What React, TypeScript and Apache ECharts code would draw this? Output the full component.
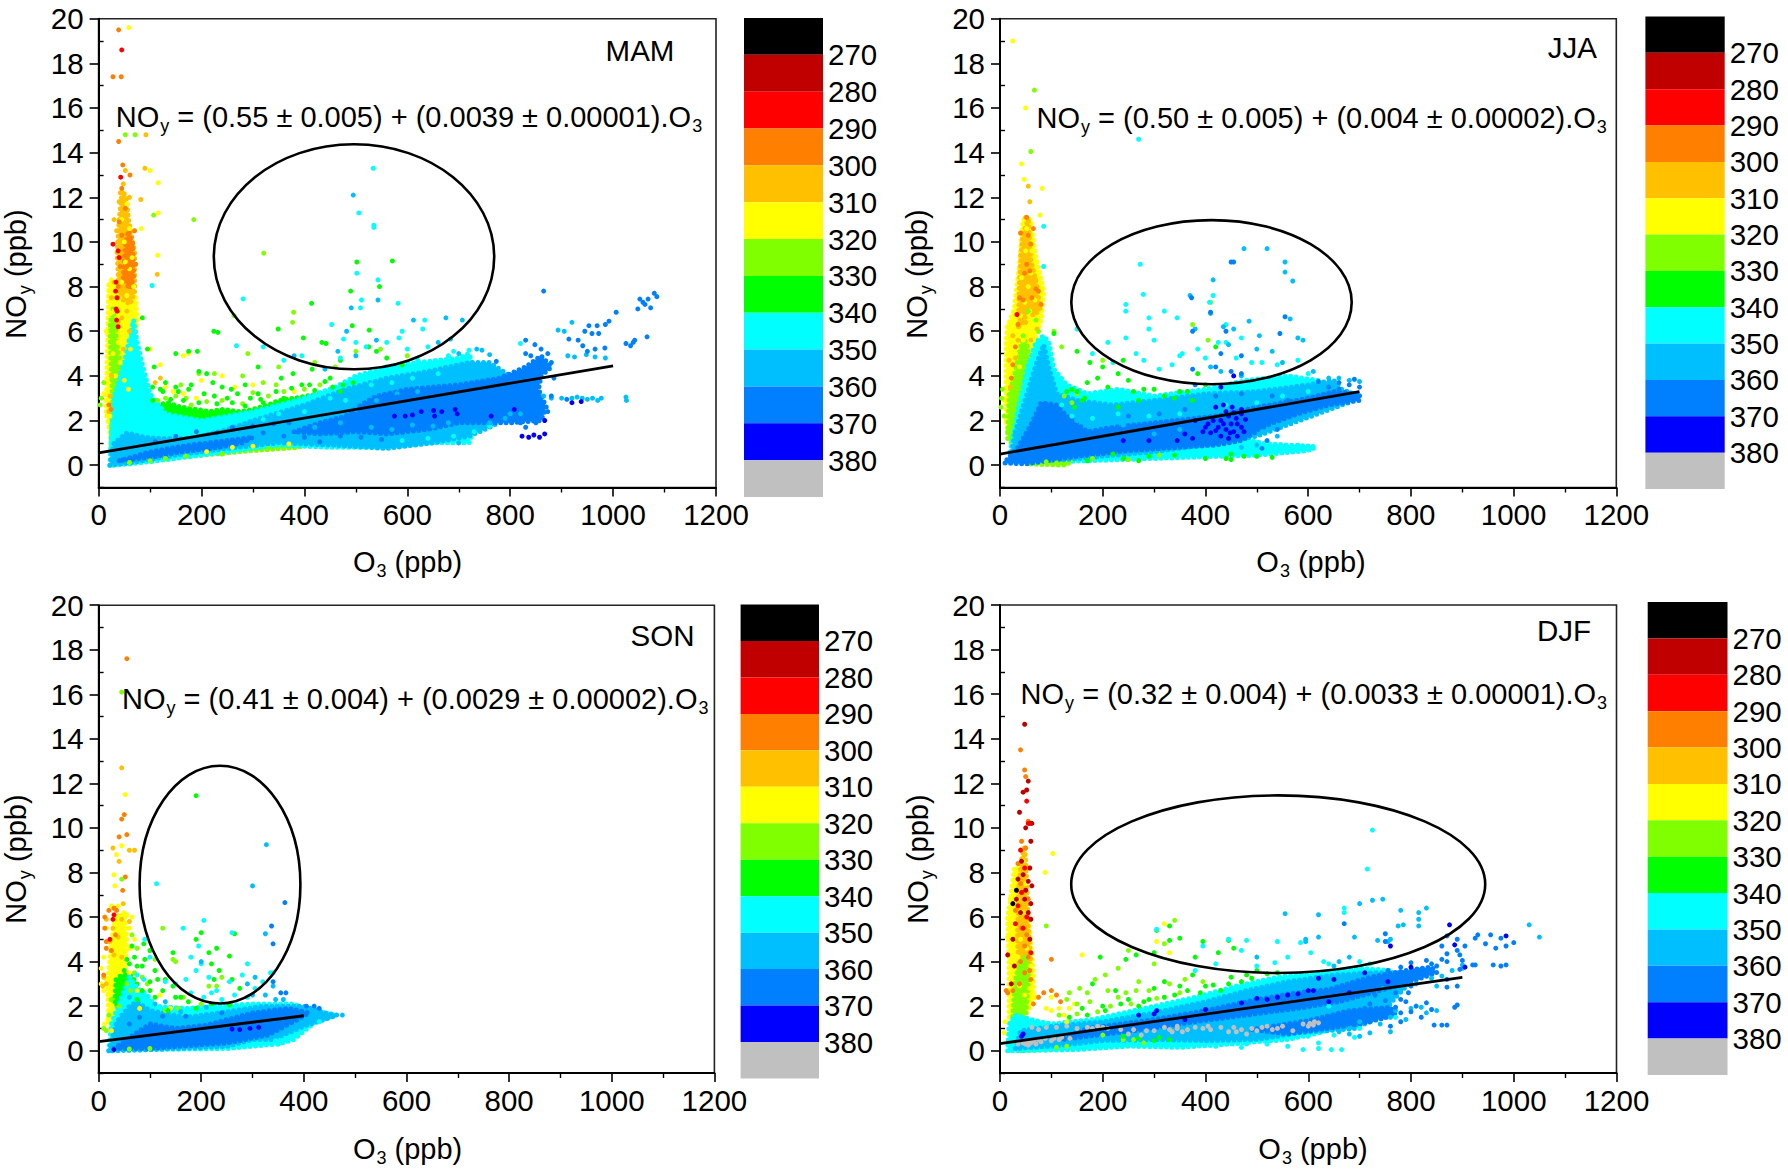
import React, { useEffect, useRef } from "react";
import * as echarts from "echarts";

const xTicks = [0, 200, 400, 600, 800, 1000, 1200];
const yLabelTicks = [0, 2, 4, 6, 8, 10, 12, 14, 16, 18, 20];
const yMinorTicks = [-1, 1, 3, 5, 7, 9, 11, 13, 15, 17, 19];
const bandStarts = [260, 270, 280, 290, 300, 310, 320, 330, 340, 350, 360, 370, 380];
const bandLabels = [270, 280, 290, 300, 310, 320, 330, 340, 350, 360, 370, 380];
const bandColors = ["#000000", "#C00000", "#FF0000", "#FF8000", "#FFC000", "#FFFF00", "#80FF00", "#00FF00", "#00FFFF", "#00BFFF", "#0080FF", "#0000FF", "#C0C0C0"];

const black = "#000000", dred = "#C00000", red = "#FF0000", orange = "#FF8000", amber = "#FFC000", yellow = "#FFFF00", lime = "#80FF00", green = "#00FF00", cyan = "#00FFFF", sky = "#00BFFF", azure = "#0080FF", blue = "#0000FF", gray = "#C0C0C0";

// ---------- MAM
const mamFitLine = [[0, 0.55], [1000, 4.45]];
const mamYellowCloud = [15,2.4, 18,6, 20,8.2, 35,8, 45,9, 60,8.5, 72,7.5, 75,6.5, 65,5, 60,3, 40,1, 28,.5, 22,1.5];
const mamLimeCloud = [24,.6, 27,3, 22,6.2, 28,7, 33,6, 38,5, 50,4, 50,3.2, 40,1.5, 30,.6];
const mamAmberCloud = [40,7.8, 36,9.5, 40,11, 46,12.3, 54,12, 58,11, 70,9.5, 70,7.8, 62,7.2, 48,7.4];
const mamOrangeCloud = [48,8.4, 52,9.8, 58,10.5, 66,10, 68,8.4, 60,7.9];
const mamGreenCloud = [115,2.7, 135,2.8, 160,2.6, 190,2.5, 215,2.4, 240,2.5, 275,2.4, 300,2.5, 330,2.7, 350,2.9, 380,3, 405,3.1, 430,3.2, 420,2.8, 350,2.35, 260,2.15, 200,1.95, 140,2.1, 120,2.3];
const mamLowEdge = [30,0, 100,.25, 200,.45, 300,.65, 390,.8, 400,.95, 300,.85, 200,.65, 100,.45, 40,.15];
const mamCyanCloud = [22,0, 25,1.5, 30,3, 52,4.8, 68,6.5, 75,5.5, 85,4.5, 100,3.2, 130,2.3, 200,2, 300,2.4, 400,3, 460,3.5, 500,4, 560,4.4, 620,4.6, 700,4.8, 720,5, 740,3.5, 730,1.6, 720,1, 650,1, 560,.8, 450,.8, 350,.9, 250,.6, 150,.3, 60,.05];
const mamSkyCloud = [22,0, 30,1, 55,1.45, 90,1.25, 120,1.2, 180,1.2, 250,1.6, 300,2, 400,2.7, 480,3.4, 560,3.9, 640,4.2, 720,4.6, 760,4.6, 800,4, 790,2.6, 770,1.8, 720,1.3, 650,1, 560,.75, 450,.9, 350,1, 250,.75, 150,.45, 60,.1];
const mamAzureLow = [40,.2, 100,.6, 160,.85, 230,1.05, 300,1.25, 280,1, 220,.75, 160,.6, 100,.35];
const mamAzureMain = [380,1.5, 430,1.9, 480,2.2, 510,2.7, 540,3.1, 600,3.4, 700,3.6, 780,3.9, 830,4.4, 860,4.9, 880,4.4, 860,4, 855,3.4, 870,2.6, 860,2, 800,1.9, 700,1.9, 640,1.6, 560,1.4, 500,1.5, 430,1.4];
const mamYellowDots = [59,19.6, 100,13.2, 116,12.65, 116,11.3, 115,9.4, 83,10.6, 25,8.3, 15,6, 18,3.7, 10,3.2, 14,2.9, 22,2.2, 100,5.2, 120,4.5, 165,4.9, 175,5, 240,4, 200,3.8, 130,3.5, 145,3.3, 165,3.2, 190,3, 265,3.5, 300,3.6, 380,3.3, 210,.6, 260,.8, 300,.85, 370,.95, 45,8.2, 52,9.1, 60,8.8, 40,7.5, 62,7.1, 68,8, 30,6.9, 48,6.2, 38,5.5, 55,5.8, 62,5.2, 42,4.6, 50,3.8, 58,3.4, 33,4, 28,5, 24,6.8, 35,8.2, 55,7.6, 70,7.2, 50,10, 60,10.6, 45,11, 55,11.7, 65,9.3];
const mamAmberDots = [92,14.8, 90,13.3, 114,8.55, 82,11.9, 52,13.2, 60,12, 30,11, 40,11.8, 35,10.5, 50,11.2, 48,12.6, 42,12.2, 20,2.4, 120,3.9, 110,3.7, 30,8.2, 25,7.5, 45,6.6, 55,6.9, 38,6.4, 48,5.2, 25,4, 22,3.1, 60,6, 35,7.5];
const mamOrangeDots = [39,19.5, 28,17.4, 44,17.4, 39,14.5, 47,13.45, 61,13, 45,12.4, 52,11.5, 40,10.9, 45,10.3, 65,9.8, 60,9, 50,8.6, 65,8.2, 55,8.9, 42,8.9, 38,8, 72,9, 70,10.5, 20,2.7, 24,2.5];
const mamRedDots = [45,18.6, 43,12.9, 28,9.9, 38,9.6, 40,9.3, 34,8.2, 36,7.5, 34,7, 35,6.5, 38,6.2, 33,7.8, 36,6.9];
const mamLimeDots = [52,14.8, 71,14.8, 107,11.2, 185,11, 321,9.5, 379,6.85, 263,6.7, 377,6.4, 10,3.7, 5,3, 3,2.7, 160,3.6, 195,4.1, 225,4.1, 280,4, 290,5, 350,4.4, 320,3.7, 420,4.6, 500,5.1, 548,5.2, 600,4.9, 460,4.4, 130,3, 150,3.1, 180,2.7, 115,2.9, 240,2.9, 280,2.75, 330,3.1, 360,3.3, 400,3.4, 430,3.6, 240,.5, 130,.3, 100,.2, 60,.12, 170,.4, 330,.75, 170,3, 210,2.85, 300,3.25, 345,3.6];
const mamGreenDots = [502,9.1, 571,9.15, 546,8, 490,7.8, 414,7.25, 349,6.1, 224,6, 232,5.95, 493,6.25, 526,6.05, 398,5.7, 434,5.5, 442,5.45, 150,5, 175,5.1, 192,5.1, 85,6.6, 95,5.2, 108,4.4, 195,4.2, 210,4.1, 222,3.7, 240,3.5, 258,3.4, 310,4.4, 285,3.6, 355,3.9, 378,4.1, 415,4.3, 525,5.3, 540,5.1, 560,4.8, 590,4.5, 470,4.7, 130,3.7, 150,3.5, 120,3.4, 180,3.6, 310,3.2, 410,3.6, 450,3.9, 105,3.5, 125,3.3, 155,3.3, 175,3.4, 205,3.2, 225,3.1, 250,3, 270,3.2, 295,3, 315,2.95, 345,3.3, 375,3.45, 395,3.6, 440,3.75, 475,3.6, 495,3.7, 105,2.9, 140,2.95, 165,2.9, 195,2.8, 230,2.75, 260,2.8, 285,2.65, 320,2.8, 360,3, 420,3.35, 455,3.5, 470,3.3];
const mamCyanDots = [534,13.3, 506,11.3, 535,10.75, 535,10.65, 502,8.6, 543,8.3, 104,8.05, 281,7.45, 511,7.4, 582,7.25, 509,7.05, 453,6.3, 634,6.5, 590,6, 268,5.35, 476,5.65, 584,5.7, 630,6.1, 320,5.3, 360,4.7, 395,4.9, 500,5.5, 520,5.3, 560,5.5, 600,5.2, 640,5.3, 690,5.1, 720,5.15, 820,5.45, 470,4.8, 620,4.7, 680,4.9, 320,2.05, 350,2.3, 400,2.4, 450,3, 480,2.9, 530,3.6, 570,3.7, 610,3.9, 660,4.1, 140,1.55, 200,1.5, 250,1.9, 590,1.1, 640,1.2, 690,1.3, 730,1.5, 760,1.75];
const mamSkyDots = [495,12.1, 543,7.4, 491,7.05, 612,6.5, 675,6.6, 707,6.5, 482,6, 684,5.65, 465,5.1, 500,4.9, 540,5.6, 380,4.9, 440,4.3, 660,5.5, 700,5, 735,5.2, 745,5.15, 760,4.95, 893,6.05, 905,6, 920,6.4, 912,4.9, 925,4.85, 965,4.85, 948,4.95, 985,4.8, 865,3.1, 880,3, 900,3, 920,3, 940,3, 960,3, 977,3, 970,2.9, 950,2.95, 930,3.05, 1025,3.05, 1026,2.9, 740,1.6, 700,1, 760,1.9, 790,2.1, 800,2.3, 820,2.3, 420,1.7, 470,1.9, 500,2.5, 540,2.9, 580,3.2, 620,3.3, 530,1.7, 570,1.6, 610,1.8, 650,1.75, 680,1.9];
const mamAzureDots = [865,7.8, 1080,7.7, 1052,7.44, 1068,7.44, 1062,7.2, 1048,7, 1073,7.05, 1085,7.55, 1058,7.3, 1006,6.85, 992,6.45, 985,6.3, 969,6.25, 953,6.25, 945,6, 959,5.9, 972,5.9, 914,5.65, 932,5.6, 941,5.35, 965,5.2, 984,5.25, 950,5.1, 1025,5.45, 1039,5.5, 1042,5.6, 1034,5.35, 1066,5.75, 773,4.65, 830,5.6, 848,5.4, 830,5, 860,5.2, 873,5, 840,4.9, 880,4.6, 885,3.9, 880,3.1, 845,2.6, 860,2.3, 845,2.1, 873,2.4, 850,1.9, 830,1.7, 820,1.9, 810,2.2, 910,2.95, 855,3.1, 110,1.05, 150,1.3, 190,1.5, 230,1.45, 260,1.7, 300,1.75, 340,1.85, 370,1.9, 320,1.45, 360,1.3, 400,1.25, 430,1.05, 470,1.3, 510,1.25, 550,1.15, 600,2.9, 580,3.05];
const mamBlueDots = [823,1.3, 836,1.25, 846,1.35, 857,1.25, 867,1.4, 867,2, 808,2.5, 763,2.2, 596,2.2, 627,2.4, 651,2.45, 653,2.2, 667,2.4, 693,2.5, 697,2.3, 920,2.8, 938,2.85, 575,2.2, 610,2.25];

// ---------- JJA
const jjaFitLine = [[0, 0.5], [700, 3.3]];
const jjaYellowCloud = [12,2, 12,5.5, 15,6.2, 28,7, 38,9, 45,11, 60,11, 68,9.5, 85,7.8, 80,6.5, 60,5, 45,3.5, 30,2, 18,1.2];
const jjaAmberCloud = [36,6.2, 38,8.3, 44,10.3, 55,11, 60,9.2, 72,8, 78,7, 65,6.7, 55,7, 45,6.4];
const jjaLimeCloud = [15,1.2, 18,3.2, 28,4, 45,5.8, 55,5.2, 35,2, 22,1];
const jjaCyanCloud = [20,.6, 35,2.5, 55,4.5, 70,5.5, 85,5.8, 95,5.5, 105,4.3, 130,3.6, 170,3.2, 230,3.4, 300,3.1, 400,3.4, 480,3.8, 560,4, 620,3.8, 650,3.5, 620,3, 500,2.2, 480,1.2, 300,.8, 150,.4];
const jjaSkyCloud = [30,1.5, 50,3, 70,4.5, 85,5.4, 95,4.4, 110,3.2, 150,2.9, 220,2.7, 300,2.9, 400,3.2, 500,3.3, 600,3.6, 650,3.8, 665,3.4, 700,3.1, 690,2.9, 500,1.3, 430,1, 300,.6, 100,.2, 20,.3];
const jjaAzureCloud = [10,.1, 50,.05, 150,.4, 250,.65, 350,.8, 420,.9, 470,1.1, 520,1.8, 580,2.3, 640,2.7, 700,2.9, 700,3.2, 650,3.3, 600,3, 500,2.6, 420,2.2, 300,1.9, 220,1.7, 170,1.5, 130,2.2, 110,2.7, 80,2.8, 60,1.8, 35,.8, 15,.3];
const jjaLowStream = [110,.15, 300,.3, 430,.4, 500,.45, 600,.65, 610,.85, 520,.95, 470,1.2, 440,1, 350,.7, 200,.5];
const jjaLowGreen = [60,.05, 130,0, 140,.25, 100,.3, 60,.2];
const jjaYellowDots = [25,19, 50,16, 42,13.5, 47,12.8, 82,12.4, 78,11.2, 8,2.9, 15,6.2, 30,6.5, 20,5.5, 60,8.6, 42,8.4, 50,9.6, 55,8, 62,9.6, 48,7.3, 68,7.4, 58,6.9, 40,6.7, 30,5, 22,4.6, 38,4.4, 45,5.6, 52,10.6];
const jjaAmberDots = [55,12.5, 58,11.8, 50,11.1, 40,9.4, 45,8.7, 70,8.3, 75,7, 25,5.8, 30,4.8, 20,3.5, 18,4.7, 35,5.6, 50,6.4, 60,5.6, 72,6.1];
const jjaOrangeDots = [40,10.4, 55,10.3, 60,9.9, 52,9, 70,7.9, 80,7.2, 30,5.3, 25,4.5, 22,3.9, 48,8.6, 58,8.7, 62,7.5, 45,7.4, 75,7.8, 38,7.5, 35,6.3, 65,10.6, 52,11.1];
const jjaRedDots = [33,6.75];
const jjaLimeDots = [67,16.8, 60,14.05, 5,3.4, 3,3, 2,2.6, 8,2.2, 15,1.5, 105,6, 120,5.3, 125,3.1, 150,3.2, 140,2.8, 410,7.3, 375,6.3, 405,5.6, 200,4.7, 55,6.9, 70,6.5, 75,6, 110,.1, 90,.15, 180,.3, 250,.25, 310,.45];
const jjaGreenDots = [105,5.9, 150,5.1, 175,4.6, 200,4.4, 230,4.1, 240,4.7, 150,3.3, 165,3, 210,3.5, 250,3.8, 260,3.3, 300,3.4, 340,3, 400,3.6, 420,5.3, 385,4.1, 350,3.3, 220,.5, 240,.3, 290,.4, 340,.45, 400,.3, 450,.5, 500,.4, 530,.35, 450,.25, 270,.2, 170,.2, 160,2.9, 230,2.6, 170,3.7, 190,3.9, 130,3.3, 140,3.4, 145,2.6, 270,2.9, 280,3.4, 320,3.1, 365,3.3, 375,2.9, 440,.3, 475,.4];
const jjaCyanDots = [270,14.6, 273,9, 279,7.65, 415,7.6, 408,7.3, 245,7.2, 245,6.9, 290,6.6, 320,6.9, 345,6.6, 440,6.3, 425,5.5, 355,5, 210,5.5, 245,5.7, 300,5.6, 290,6.1, 150,6.1, 180,5, 265,5, 220,4.6, 280,4.7, 310,4.3, 335,4.5, 350,4.9, 385,5.2, 400,4.8, 440,5.5, 460,4.8, 470,5.7, 490,4.6, 510,4.6, 540,4.5, 580,4.7, 600,4.1, 85,10.7, 85,8.9, 560,.75, 580,.9, 610,.75, 500,1, 530,.8, 120,2.7, 140,2.2, 180,2.1, 230,2.3, 290,2.2, 350,2.3, 440,2.7, 500,2.8, 550,3.1, 600,3.3];
const jjaSkyDots = [415,8.3, 570,8.25, 555,9.1, 555,8.65, 475,9.7, 520,9.7, 370,7.6, 410,6.8, 485,6.45, 565,6.55, 380,6.1, 435,6.2, 455,6.1, 505,5.8, 580,5.7, 590,5.6, 445,5.4, 500,5.2, 530,5.1, 410,4.4, 430,4.2, 470,4, 550,4.6, 610,4.2, 640,3.9, 680,3.8, 700,3.75, 660,3.9, 500,.9, 540,1.3, 510,1.5, 470,.8, 150,2, 190,1.8, 240,1.8, 300,1.4, 350,1.6, 400,1.7];
const jjaAzureDots = [450,9.1, 455,9.1, 555,6.65, 410,6.85, 373,7.5, 375,6, 440,6, 430,5, 545,5.9, 470,4.9, 375,4.3, 420,4.4, 450,4.2, 380,3.6, 470,4.1, 660,3.7, 620,3.75, 640,3.5, 690,3.85, 680,3.6, 700,3.5, 660,3.4, 540,1.6, 520,1.1, 510,.75, 420,3.1, 470,3.2, 530,3.1, 560,2.9, 310,2.3, 360,2.5, 250,2.2];
const jjaBlueDots = [455,4, 430,3.5, 240,1.1, 290,1.1, 345,1.1, 380,2, 360,1.4, 420,2.6, 435,2.7, 470,2.5, 375,1.2, 395,1.5, 410,1.45, 425,1.7, 440,1.6, 455,1.5, 470,1.7, 430,1.3, 445,1.2, 460,2.1, 445,2.2, 430,2, 415,2, 400,1.7, 470,2.3, 450,1.85, 440,2.4, 455,2.35, 478,2.05, 462,1.85, 435,1.85, 448,1.45, 420,1.55, 462,1.3, 405,1.85, 475,1.5, 452,2.6];

// ---------- SON
const sonFitLine = [[0, 0.41], [400, 1.57]];
const sonYellowCloud = [18,3, 24,4.6, 32,6, 50,6.2, 55,5, 50,3, 40,1.8, 28,1, 20,1.2];
const sonGreenCloud = [32,2.2, 34,3.2, 45,3.4, 62,3.4, 75,3, 70,2.3, 45,1.7];
const sonCyanCloud = [20,0, 25,1.2, 45,2.4, 60,3.3, 75,2.8, 95,2.5, 110,2, 170,1.9, 230,2, 300,2.1, 380,2.1, 400,1.9, 460,1.6, 420,1.25, 380,.5, 350,.3, 250,.1, 100,.05];
const sonSkyCloud = [20,0, 35,1.3, 60,2, 75,2.2, 100,1.8, 170,1.5, 250,1.75, 320,2, 400,2, 440,1.7, 465,1.6, 440,1.4, 400,1.1, 340,.5, 300,.5, 250,.2, 100,.05];
const sonAzureCloud = [30,.1, 80,.9, 100,1.2, 150,1, 210,1.15, 300,1.7, 370,1.9, 410,1.7, 380,1.3, 330,.7, 250,.35, 100,.1];
const sonYellowDots = [52,11.5, 45,9.2, 35,8.8, 30,7.9, 32,7.4, 25,6.5, 15,5.5, 10,4.2, 5,3.7, 5,3, 10,2.7, 18,2.5, 12,1.2, 18,1.4, 25,.9, 65,6, 70,5, 60,3.5, 75,2.7, 80,1.9, 120,2.5, 140,1.9, 60,5.5, 40,5.5, 48,4.8, 28,3.5, 15,3.2, 22,2.7, 55,6.1, 62,4.6, 30,6, 38,6.5];
const sonAmberDots = [45,12.7, 60,9, 70,9, 28,9.1, 40,8.5, 15,5.9, 22,4.9, 30,6.4, 48,6.6, 60,5.8, 10,3.3, 45,5.9, 28,5.5, 38,5.1, 30,4.3, 45,4.2, 15,3, 8,2.9];
const sonOrangeDots = [55,17.6, 50,10.6, 45,10.4, 40,9.6, 55,9.7, 52,7.8, 47,7.2, 12,6, 12,5.5, 15,4.9, 20,6.3, 30,6.4, 15,4.6, 35,6.3, 10,3.4, 25,4.5, 33,5.2];
const sonRedDots = [30,6.1, 28,5.9, 22,5];
const sonLimeDots = [45,16.1, 45,7.7, 125,5.5, 65,5.2, 75,4.6, 110,4.1, 145,4.1, 150,4, 10,1, 15,.9, 200,2.1, 215,2.9, 130,1.8, 155,1.9, 165,2.4, 85,3.3, 95,3, 230,2.9, 240,3.3, 20,1.6, 25,2.3, 40,2, 55,3, 70,3.5, 62,2.7, 30,.05, 60,.08, 100,.1];
const sonGreenDots = [190,11.45, 265,5.25, 200,5.3, 190,5, 230,4.6, 215,4.4, 255,4.25, 145,4.4, 88,4.8, 100,4.5, 65,4.7, 75,3.8, 110,3.6, 100,2.7, 125,2.7, 145,2.9, 160,2.4, 175,2.2, 190,1.9, 220,2.1, 255,2.05, 225,3.2, 235,3.6, 260,3.2, 220,3.9, 275,2.8, 135,1.8, 85,3.8, 90,4.1, 70,4.2, 60,3.9, 55,4.1, 50,3.6, 38,2.9, 115,3.2, 130,3.2, 150,2.4, 75,2.3, 85,2.7, 100,3.1, 110,2.4];
const sonCyanDots = [113,7.5, 205,5.85, 260,5.3, 165,5.5, 195,4.7, 180,4.2, 90,5, 100,4.2, 170,3.2, 190,3.6, 130,3.1, 200,3.9, 290,3.9, 150,3, 255,3.1, 215,3.3, 230,2.7, 265,2.5, 305,2.8, 320,3.1, 335,3.5, 340,3.5, 280,3.4, 220,2.6, 350,.3, 345,.45, 430,1.3, 75,3.4, 88,3.2, 60,3.3, 180,2.6, 205,2.4, 240,2.3, 290,2.4];
const sonSkyDots = [327,9.25, 300,7.4, 325,5.25, 200,4, 290,3, 305,3.3, 340,2.9, 345,2.3, 360,2.3, 325,2.5, 300,2.5, 475,1.6, 450,1.55, 60,2.4, 110,2.1, 130,2.2, 160,1.75, 210,1.95];
const sonAzureDots = [363,6.65, 337,5.6, 340,4.8, 365,2.6, 355,2.6, 340,3.1, 420,2, 430,1.9, 405,2, 125,1.55, 80,1.5, 60,1.2, 170,1.55, 240,1.7];
const sonBlueDots = [260,.97, 275,.95, 295,1, 312,1.05, 30,.05];

// ---------- DJF
const djfFitLine = [[0, 0.32], [900, 3.29]];
const djfYellowCloud = [18,1.5, 18,4, 15,6, 22,7, 28,8.2, 38,8.2, 45,7, 55,6, 65,3.5, 65,2.2, 48,1.6, 35,1.6];
const djfAmberCloud = [38,3.2, 34,5, 36,7.2, 42,8.6, 48,9.2, 52,7.6, 55,5.5, 60,4, 50,3.2];
const djfLimeCloud = [24,1.3, 30,3.2, 40,4.1, 52,4, 55,3, 50,1.6, 35,1.3];
const djfCyanCloud = [15,0, 18,1.2, 30,1.6, 60,1.4, 100,1.2, 180,1.4, 280,1.9, 380,2.4, 460,2.9, 540,3.3, 620,3.5, 700,3.7, 760,3.6, 770,2.9, 740,2, 680,1.2, 620,.8, 560,.5, 500,.4, 450,.3, 350,.15, 250,.2, 150,.05, 40,0];
const djfSkyCloud = [30,.1, 40,.9, 120,1.15, 200,1.3, 300,1.7, 400,2.2, 480,2.7, 560,3.1, 650,3.4, 730,3.5, 790,3.5, 800,3.1, 770,2.4, 740,1.5, 690,1, 640,.9, 580,.8, 500,.5, 400,.45, 300,.5, 200,.45, 100,.2];
const djfAzureUpper = [170,1, 300,1.4, 400,1.8, 480,2.2, 560,2.55, 640,2.75, 720,3.3, 790,3.6, 840,3.75, 850,3.5, 800,3.1, 740,2.7, 660,2.2, 580,1.9, 480,1.6, 380,1.3, 260,.9, 120,.5];
const djfAzureLower = [490,.95, 600,1.35, 680,1.8, 760,1.95, 770,1.6, 700,1.2, 620,.95, 560,.75];
const djfLowEdge = [40,0, 100,.1, 200,.25, 260,.3, 220,.55, 150,.4, 80,.2];
const djfDredDots = [48,14.65, 55,12.1, 45,11.6, 52,11.7, 38,10.7, 58,10.2, 50,10, 62,10.2, 60,9.4, 42,8.5, 45,7.9, 58,8.2, 62,7.4, 50,7.2, 32,6.8, 55,6.2, 60,5.9, 58,5, 25,5, 28,3.8, 22,3, 15,4.3, 40,6.2, 48,6.8, 55,7.6, 35,7.7, 60,6.6];
const djfOrangeDots = [40,13.5, 48,12.6, 50,12.3, 55,10.3, 42,9.4, 50,9.1, 35,8.4, 40,7.5, 30,6.3, 55,6.8, 100,4.1, 55,4.2, 25,2.7, 100,2.7, 110,2.5, 85,2.6, 118,2.2, 15,2.6, 60,3.2, 12,2.7, 42,5.5, 48,4.7, 40,4, 52,5.2, 58,3.6, 75,2.4, 65,2.1, 38,3, 48,3.5];
const djfRedDots = [52,11.2, 40,9, 55,10.2, 48,8.2, 42,7.1, 52,6, 45,5.5, 35,6.5, 30,5.7, 60,4.4];
const djfYellowDots = [103,8.85, 88,8, 20,5.5, 15,5.1, 20,6.8, 18,4.2, 25,3.6, 70,2.4, 90,1.9, 125,1.6, 160,4.3, 100,2.4, 145,2.1, 135,1.9, 320,5.7, 305,4.9, 330,4.4, 130,1.3, 10,1.3, 8,.8, 35,6.8, 45,6.2, 40,5, 52,4.6, 35,4.2, 50,7.5, 45,8.5, 60,3.8, 38,2.9, 48,2.5, 58,2.8, 100,1.8, 115,1.9];
const djfLimeDots = [90,5.6, 135,2.6, 185,3.2, 155,2.8, 175,2.2, 205,3.4, 230,3.7, 250,4.5, 270,3.1, 300,3.9, 320,4.8, 340,5.85, 210,2.7, 245,2.6, 290,2.7, 360,3.2, 150,2.1, 200,.7, 240,.5, 260,.5, 280,.35, 130,.2, 110,.15, 40,3.5, 48,4.2, 55,3.4, 32,2.4, 45,2, 130,2.3, 170,2.6, 230,2.4, 265,2.7, 330,3, 395,3.1, 115,1.6, 150,1.65, 190,1.75, 215,2, 255,2.1, 305,2.35, 350,2.6];
const djfGreenDots = [330,5.6, 305,5.4, 350,5.05, 330,4.95, 265,4.3, 195,4.2, 245,4.1, 300,4.4, 380,4.2, 445,4.95, 395,4.9, 455,4.6, 425,4.4, 375,3.4, 180,3, 225,2.7, 300,2.8, 320,3.1, 350,2.9, 400,2.9, 430,2.7, 450,3.3, 480,3.4, 500,3.6, 470,3.1, 250,2.3, 290,2.3, 270,2, 340,2.5, 160,1.9, 200,2, 330,.5, 300,.45, 270,.55, 240,.65, 310,.6, 135,1.5, 170,1.6, 205,1.8, 235,2.1, 280,2.2, 320,2.4, 365,2.7, 390,2.6, 415,2.95, 445,3, 490,3.25, 520,3.45, 540,3.5];
const djfCyanDots = [725,9.9, 715,8.15, 670,6.4, 670,6.2, 305,5.45, 445,5, 480,4.95, 395,4.7, 540,4.9, 470,4.5, 585,4.85, 605,4.4, 630,4, 560,4.2, 535,3.95, 500,3.8, 420,3.9, 380,3.6, 640,3.9, 700,4, 720,3.9, 640,2, 590,.05, 620,.1, 645,.05, 665,.05, 560,.2, 520,.3, 480,.3, 470,.15, 420,.2, 600,.65, 650,.7, 690,.6, 620,.35, 700,1, 770,1.5];
const djfSkyDots = [555,6.15, 620,6.1, 700,6.6, 745,6.8, 725,6.75, 780,6.3, 815,6.2, 815,5.9, 830,6.4, 1030,5.65, 1050,5.1, 690,5.1, 595,4.9, 595,5, 735,4.95, 760,5, 755,4.9, 775,5.6, 785,5.65, 815,5.6, 620,5.1, 680,4.2, 500,4.2, 660,4, 650,3.8, 900,3.7, 745,2.8, 700,1.3, 680,1, 660,.85, 770,1.8, 800,1.9, 760,1.5, 830,1.7, 790,1.4, 740,1.2, 820,1.95, 850,1.8, 780,2.7, 810,3, 760,.85, 720,.8, 700,.65, 680,.75, 840,3.25, 860,3.35, 880,3.6, 900,3.85, 850,2.9];
const djfAzureDots = [750,5.25, 670,5.7, 750,4.9, 870,5.15, 890,5, 860,4.7, 890,4.5, 905,4.7, 925,5.05, 955,5.2, 930,5.2, 975,5.05, 1000,4.85, 985,4.7, 965,4.6, 945,4.8, 960,3.85, 975,3.8, 985,3.85, 925,3.85, 920,3.85, 895,4.3, 870,4.35, 860,4.1, 830,4.05, 800,3.95, 850,3.8, 780,3.75, 755,3.6, 815,3.3, 830,3.5, 790,3.4, 760,3.1, 800,2.9, 870,2.85, 895,3.65, 890,2.05, 885,1.95, 860,1.15, 870,1.15, 845,1.15, 780,1.7, 760,1.1, 810,2, 840,1.85, 750,2.25, 780,2.3, 720,2.1, 830,2.15, 770,1.95, 800,1.75, 740,1.85, 710,1.9, 790,2.2, 820,1.5, 720,1.3, 780,1.3, 750,1.5, 780,3.3, 820,3.65, 870,4, 900,4.05, 840,3.9, 810,3.6, 870,3.2, 890,2.9, 795,2.6, 770,2.6, 730,2.5];
const djfBlueDots = [875,5.65, 985,5.15, 760,4.7, 885,4.75, 800,3.75, 650,3.2, 600,2.7, 560,2.5, 520,2.3, 470,2.15, 400,1.85, 360,1.4, 305,1.8, 300,1.65, 270,1.6, 45,.75, 42,.65, 680,2.6, 640,2.2, 710,3.5, 755,3.1, 905,3.75, 580,2.55, 540,2.4, 500,2.35, 620,3.25, 610,2.7];
const djfGrayDots = [45,.35, 55,.4, 65,.45, 75,.5, 88,.55, 105,.55, 120,.6, 136,.55, 62,1.05, 75,.95, 90,1.05, 110,1.05, 130,1.1, 150,1, 170,1.05, 190,1.1, 210,1, 235,.95, 260,.95, 285,.9, 300,.9, 250,.75, 275,.7, 320,1.05, 345,1.1, 365,.95, 395,1, 410,.95, 430,1.05, 445,.85, 470,.95, 490,1, 510,1.05, 530,.95, 550,1.1, 570,.9, 590,1.2, 603,1.22, 612,1.3, 620,1.25, 480,.75, 500,.9, 55,.25, 35,.3, 80,.4, 100,.45, 115,.5, 70,.3, 60,.35, 50,.3, 600,1.1, 610,1.15, 330,.95, 335,.85, 380,1.05, 405,1.1, 460,.85, 520,1.1, 540,1, 345,1, 355,.85, 455,1.05, 180,1, 200,1.05];
const djfBlackDots = [32,7.2, 25,6.6];

const panels = [
  { id: "MAM", left: 98.6, right: 716, top: 18.7, bottom: 487.5, barL: 744, barR: 823, barT: 18, barB: 497, barPad: [2, 0, 0, 0], labelX: 640, labelY: 50.6, eqX: 115.7, eqY: 116.5, eq: ["0.55", "0.005", "0.0039", "0.00001"], ell: [354, 256.8, 140.2, 112.5], titleX: 407.6, titleY: 562, noyX: 16, noyY: 274, line: mamFitLine,
    layers: [[yellow, mamYellowCloud], [lime, mamLimeCloud], [amber, mamAmberCloud], [orange, mamOrangeCloud], [green, mamGreenCloud], [lime, mamLowEdge], [cyan, mamCyanCloud], [sky, mamSkyCloud], [azure, mamAzureLow], [azure, mamAzureMain]],
    dots: [[yellow, mamYellowDots], [amber, mamAmberDots], [orange, mamOrangeDots], [red, mamRedDots], [lime, mamLimeDots], [green, mamGreenDots], [cyan, mamCyanDots], [sky, mamSkyDots], [azure, mamAzureDots], [blue, mamBlueDots]] },
  { id: "JJA", left: 1000, right: 1616.3, top: 18.7, bottom: 487.5, barL: 1645.4, barR: 1724.7, barT: 16.5, barB: 489, barPad: [0, 0, 3, 0], labelX: 1572.4, labelY: 47.6, eqX: 1036.5, eqY: 118, eq: ["0.50", "0.005", "0.004", "0.00002"], ell: [1211.5, 302.2, 140.2, 82.1], titleX: 1311, titleY: 562, noyX: 917, noyY: 274, line: jjaFitLine,
    layers: [[yellow, jjaYellowCloud], [amber, jjaAmberCloud], [lime, jjaLimeCloud], [cyan, jjaCyanCloud], [cyan, jjaLowStream], [lime, jjaLowGreen], [sky, jjaSkyCloud], [azure, jjaAzureCloud]],
    dots: [[yellow, jjaYellowDots], [amber, jjaAmberDots], [orange, jjaOrangeDots], [red, jjaRedDots], [lime, jjaLimeDots], [green, jjaGreenDots], [cyan, jjaCyanDots], [sky, jjaSkyDots], [azure, jjaAzureDots], [blue, jjaBlueDots]] },
  { id: "SON", left: 98.6, right: 714.4, top: 605.2, bottom: 1073, barL: 740.6, barR: 819, barT: 604.5, barB: 1078.5, barPad: [0, 0, 2, 0], labelX: 662.5, labelY: 635.6, eqX: 122, eqY: 699.4, eq: ["0.41", "0.004", "0.0029", "0.00002"], ell: [220, 884.6, 80.4, 118.9], titleX: 407.6, titleY: 1149, noyX: 16, noyY: 859, line: sonFitLine,
    layers: [[yellow, sonYellowCloud], [green, sonGreenCloud], [cyan, sonCyanCloud], [sky, sonSkyCloud], [azure, sonAzureCloud]],
    dots: [[yellow, sonYellowDots], [amber, sonAmberDots], [orange, sonOrangeDots], [red, sonRedDots], [lime, sonLimeDots], [green, sonGreenDots], [cyan, sonCyanDots], [sky, sonSkyDots], [azure, sonAzureDots], [blue, sonBlueDots]] },
  { id: "DJF", left: 1000, right: 1616.5, top: 605, bottom: 1073, barL: 1647.7, barR: 1727.5, barT: 602, barB: 1075, barPad: [0, 0, 1, 0], labelX: 1564, labelY: 630, eqX: 1020.6, eqY: 693.7, eq: ["0.32", "0.004", "0.0033", "0.00001"], ell: [1278.2, 884.2, 207, 88.8], titleX: 1313, titleY: 1149, noyX: 918, noyY: 859, line: djfFitLine,
    layers: [[yellow, djfYellowCloud], [amber, djfAmberCloud], [lime, djfLimeCloud], [lime, djfLowEdge], [cyan, djfCyanCloud], [sky, djfSkyCloud], [azure, djfAzureUpper], [azure, djfAzureLower]],
    dots: [[yellow, djfYellowDots], [lime, djfLimeDots], [green, djfGreenDots], [orange, djfOrangeDots], [dred, djfDredDots], [red, djfRedDots], [black, djfBlackDots], [cyan, djfCyanDots], [sky, djfSkyDots], [azure, djfAzureDots], [gray, djfGrayDots], [blue, djfBlueDots]] },
];

const FONT = "Liberation Sans";
const TICK = 29.5;
const EQ = 29;
const W = 1788, H = 1171;

function pairs(flat: number[]) {
  const out: number[][] = [];
  for (let i = 0; i + 1 < flat.length; i += 2) out.push([flat[i], flat[i + 1]]);
  return out;
}

const subRich = {
  t: { fontFamily: FONT, fontSize: EQ, color: "#000" },
  s: { fontFamily: FONT, fontSize: 18, color: "#000", padding: [18, 0, 0, 1] },
};

function buildOption() {
  const grid: any[] = [], xAxis: any[] = [], yAxis: any[] = [], series: any[] = [], graphic: any[] = [];
  panels.forEach((p: any) => {
    const g = grid.length;
    grid.push({ left: p.left, top: p.top, width: p.right - p.left, height: p.bottom - p.top, show: true, borderColor: "#222", borderWidth: 1.6, backgroundColor: "transparent" });
    const xIdx = xAxis.length, yIdx = yAxis.length;
    xAxis.push({
      gridIndex: g, type: "value", min: 0, max: 1200, interval: 200, splitLine: { show: false },
      axisLine: { onZero: false, lineStyle: { color: "#000", width: 2 } },
      axisTick: { length: 9, lineStyle: { color: "#000", width: 1.6 }, customValues: xTicks },
      minorTick: { show: true, splitNumber: 2, length: 5, lineStyle: { color: "#000", width: 1.4 } },
      axisLabel: { customValues: xTicks, formatter: (v: number) => String(v), margin: 12, fontFamily: FONT, fontSize: TICK, color: "#000" },
    });
    yAxis.push({
      gridIndex: g, type: "value", min: -1, max: 20, interval: 1, splitLine: { show: false },
      axisLine: { onZero: false, lineStyle: { color: "#000", width: 2 } },
      axisTick: { length: 9, lineStyle: { color: "#000", width: 1.6 }, customValues: yLabelTicks },
      axisLabel: { customValues: yLabelTicks, margin: 15, padding: [0, 0, 3, 0], fontFamily: FONT, fontSize: TICK, color: "#000" },
    });
    yAxis.push({
      gridIndex: g, type: "value", min: -1, max: 20, interval: 1, splitLine: { show: false },
      axisLine: { show: false },
      axisTick: { length: 5, lineStyle: { color: "#000", width: 1.4 }, customValues: yMinorTicks },
      axisLabel: { show: false },
    });

    const polyBase = { type: "custom", xAxisIndex: xIdx, yAxisIndex: yIdx, silent: true, clip: false, animation: false };
    p.layers.forEach(([color, flat]: any) => {
      const pts = pairs(flat);
      series.push({
        ...polyBase, z: 2, data: pts,
        renderItem: (params: any, api: any) => {
          if (params.dataIndex !== 0) return { type: "group", children: [] };
          return {
            type: "polygon",
            shape: { points: pts.map((q) => api.coord(q)) },
            style: { fill: color, stroke: color, lineWidth: 5, lineDash: [0, 5.5], lineCap: "round" },
          };
        },
      });
    });
    p.dots.forEach(([color, flat]: any) => {
      series.push({
        type: "scatter", xAxisIndex: xIdx, yAxisIndex: yIdx, silent: true, z: 3,
        data: pairs(flat), symbol: "circle", symbolSize: 5, itemStyle: { color, opacity: 1 },
      });
    });
    series.push({
      type: "line", xAxisIndex: xIdx, yAxisIndex: yIdx, silent: true, z: 4, data: p.line,
      showSymbol: false, symbol: "none", lineStyle: { color: "#000", width: 2.8 },
    });

    // colour bar
    const gb = grid.length;
    grid.push({ left: p.barL, top: p.barT, width: p.barR - p.barL, height: p.barB - p.barT });
    const xb = xAxis.length, yb = yAxis.length;
    xAxis.push({ gridIndex: gb, type: "value", min: 0, max: 1, show: false });
    yAxis.push({
      gridIndex: gb, type: "value", inverse: true, position: "right", min: 260, max: 390, interval: 10, splitLine: { show: false },
      axisLine: { show: false }, axisTick: { show: false },
      axisLabel: { customValues: bandLabels, margin: 5, padding: p.barPad, fontFamily: FONT, fontSize: TICK, color: "#000" },
    });
    series.push({
      type: "custom", xAxisIndex: xb, yAxisIndex: yb, silent: true, clip: false,
      data: bandStarts.map((v) => [0, v]),
      renderItem: (_params: any, api: any) => {
        const v = api.value(1);
        const a = api.coord([0, v]), b = api.coord([1, v + 10]);
        return { type: "rect", shape: { x: a[0], y: a[1], width: b[0] - a[0], height: b[1] - a[1] }, style: { fill: bandColors[bandStarts.indexOf(v)] } };
      },
    });

    // annotations
    graphic.push({ type: "ellipse", z: 10, silent: true, shape: { cx: p.ell[0], cy: p.ell[1], rx: p.ell[2], ry: p.ell[3] }, style: { fill: "none", stroke: "#000", lineWidth: 2.6 } });
    graphic.push({ type: "text", z: 10, silent: true, x: p.labelX, y: p.labelY, style: { text: p.id, fontFamily: FONT, fontSize: TICK, fill: "#000", align: "center", verticalAlign: "middle" } });
    const [a, b, c, d] = p.eq;
    graphic.push({
      type: "text", z: 10, silent: true, x: p.eqX, y: p.eqY,
      style: {
        text: `{t|NO}{s|y}{t| = (${a} ± ${b}) + (${c} ± ${d}).O}{s|3}`,
        rich: subRich, align: "left", verticalAlign: "middle", fontFamily: FONT, fontSize: EQ, fill: "#000",
      },
    });
    graphic.push({
      type: "text", z: 10, silent: true, x: p.titleX, y: p.titleY,
      style: { text: "{t|O}{s|3}{t| (ppb)}", rich: subRich, align: "center", verticalAlign: "middle", fontFamily: FONT, fontSize: EQ, fill: "#000" },
    });
    graphic.push({
      type: "text", z: 10, silent: true, x: p.noyX, y: p.noyY, rotation: Math.PI / 2,
      style: { text: "{t|NO}{s|y}{t| (ppb)}", rich: subRich, align: "center", verticalAlign: "middle", fontFamily: FONT, fontSize: EQ, fill: "#000" },
    });
  });
  return { animation: false, backgroundColor: "#fff", grid, xAxis, yAxis, series, graphic };
}

export default function App() {
  const ref = useRef<HTMLDivElement>(null);
  useEffect(() => {
    const chart = echarts.init(ref.current!, undefined, { renderer: "svg" });
    chart.setOption(buildOption() as any);
    return () => chart.dispose();
  }, []);
  return <div ref={ref} style={{ position: "absolute", left: 0, top: 0, width: W, height: H }} />;
}
